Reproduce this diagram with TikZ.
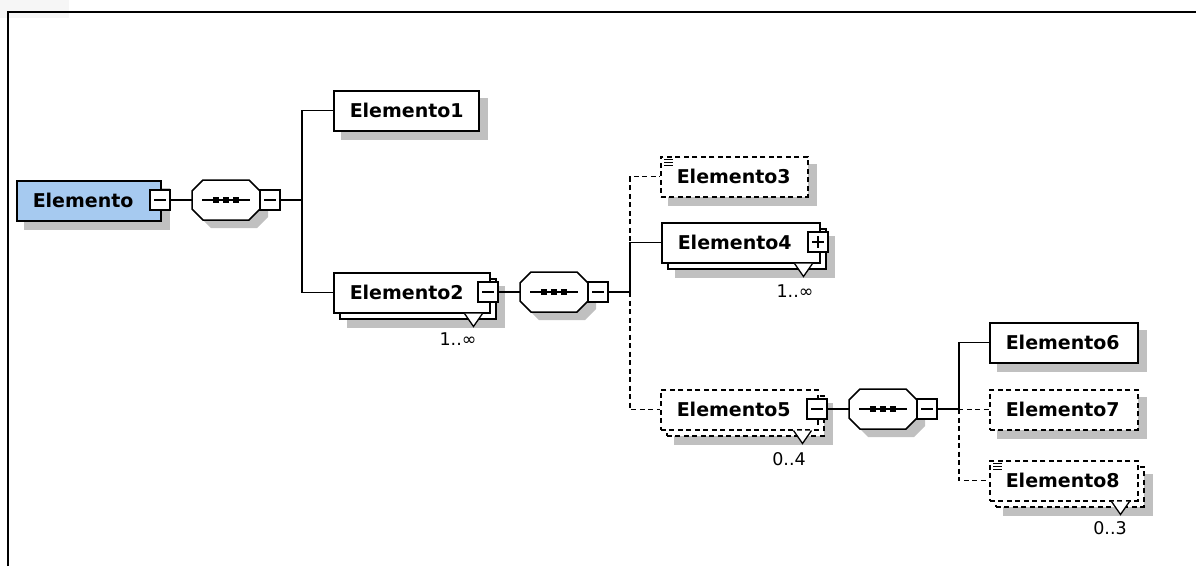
\documentclass[tikz,border=0pt]{standalone}
\usepackage{fontspec}
\setmainfont{DejaVu Sans}
\usetikzlibrary{backgrounds}
\definecolor{shadowgray}{RGB}{192,192,192}
\definecolor{rootblue}{RGB}{166,202,240}
\definecolor{faint}{RGB}{246,246,246}
\newcommand\octpts[1]{([xshift=11pt]#1.north west) -- ([xshift=-11pt]#1.north east) -- ([yshift=-11pt]#1.north east) -- ([yshift=11pt]#1.south east) -- ([xshift=-11pt]#1.south east) -- ([xshift=11pt]#1.south west) -- ([yshift=11pt]#1.south west) -- ([yshift=-11pt]#1.north west) -- cycle}
\begin{document}
\begin{tikzpicture}[x=1pt,y=-1pt,
  elbox/.style={draw,line width=1.5pt,fill=white,minimum height=40pt,inner xsep=16pt,inner ysep=0pt,align=left,anchor=north west,font=\fontsize{19}{21}\selectfont\bfseries},
  optbox/.style={elbox,dash pattern=on 5pt off 3.5pt},
  backbox/.style={draw,line width=1.5pt,fill=white,minimum height=40pt,inner sep=0pt,anchor=north west},
  optback/.style={backbox,dash pattern=on 5pt off 3.5pt},
  octnode/.style={minimum width=68pt,minimum height=40pt,inner sep=0pt,outer sep=0pt},
  octline/.style={line width=1.5pt,fill=white},
  minusbox/.style={draw,fill=white,line width=1.5pt,minimum size=20pt,inner sep=0pt,
    path picture={\draw[line width=1.4pt] ([xshift=4pt]path picture bounding box.west) -- ([xshift=-4pt]path picture bounding box.east);}},
  plusbox/.style={minusbox,
    path picture={\draw[line width=1.4pt] ([xshift=4pt]path picture bounding box.west) -- ([xshift=-4pt]path picture bounding box.east);
                  \draw[line width=1.4pt] ([yshift=-4pt]path picture bounding box.north) -- ([yshift=4pt]path picture bounding box.south);}},
  conn/.style={line width=1.4pt},
  optconn/.style={conn,dash pattern=on 5pt off 3.5pt},
  notch/.style={line width=1.3pt,fill=white},
  mult/.style={font=\fontsize{17.5}{19}\selectfont,inner sep=0pt},
  shad/.style={fill=shadowgray,transform canvas={xshift=8pt,yshift=-8pt}},
  icon/.style={line width=1pt},
  seqdot/.style={fill=black}
]
\useasboundingbox (0,0) rectangle (1196,566);
\fill[faint] (0,0) rectangle (69,18);
\draw[line width=2pt] (8,566) -- (8,12) -- (1196,12);

% junction points
\coordinate (j1) at (302,200);
\coordinate (j2) at (630,292);
\coordinate (j3) at (959,409);

% root
\node[elbox,fill=rootblue,text width=112pt] (e0) at (16,180) {\mbox{Elemento}};
\node[minusbox] (m0) at (160,200) {};

% sequence 1
\node[octnode] (o1) at (226,200) {};
\draw[octline] \octpts{o1};
\draw[conn] ([xshift=10pt]o1.west) -- ([xshift=-10pt]o1.east);
\foreach \d in {-10,0,10} \fill[seqdot] ([shift={(\d pt-2.7pt,-2.7pt)}]o1.center) rectangle ++(5.4,-5.4);
\node[minusbox] (m1) at (270,200) {};

% Elemento1
\node[elbox,text width=113pt] (e1) at (333,90) {\mbox{Elemento1}};

% Elemento2
\node[backbox,minimum width=156pt] (e2b) at (339,278) {};
\node[elbox,text width=124pt] (e2) at (333,272) {\mbox{Elemento2}};
\node[minusbox] (m2) at (488,292) {};
\draw[notch] ([xshift=-26pt]e2.south east) -- ++(9,13) -- ++(9,-13);
\node[mult] (l2) at (458,339) {1..∞};

% sequence 2
\node[octnode] (o2) at (554,292) {};
\draw[octline] \octpts{o2};
\draw[conn] ([xshift=10pt]o2.west) -- ([xshift=-10pt]o2.east);
\foreach \d in {-10,0,10} \fill[seqdot] ([shift={(\d pt-2.7pt,-2.7pt)}]o2.center) rectangle ++(5.4,-5.4);
\node[minusbox] (m3) at (598,292) {};

% Elemento3
\node[optbox,text width=115pt] (e3) at (660,156) {\mbox{Elemento3}};
\foreach \k in {3,6,9} \draw[icon] ([shift={(4pt,-\k pt)}]e3.north west) -- ++(9,0);

% Elemento4
\node[backbox,minimum width=158pt] (e4b) at (667,228) {};
\node[elbox,text width=126pt] (e4) at (661,222) {\mbox{Elemento4}};
\node[plusbox] (p4) at (818,242) {};
\draw[notch] ([xshift=-26pt]e4.south east) -- ++(9,13) -- ++(9,-13);
\node[mult] (l4) at (795,291) {1..∞};

% Elemento5
\node[optback,minimum width=157pt] (e5b) at (666,395) {};
\node[optbox,text width=125pt] (e5) at (660,389) {\mbox{Elemento5}};
\node[minusbox] (m5) at (817,409) {};
\draw[notch] ([xshift=-25pt]e5.south east) -- ++(9,13) -- ++(9,-13);
\node[mult] (l5) at (789,459) {0..4};

% sequence 3
\node[octnode] (o3) at (883,409) {};
\draw[octline] \octpts{o3};
\draw[conn] ([xshift=10pt]o3.west) -- ([xshift=-10pt]o3.east);
\foreach \d in {-10,0,10} \fill[seqdot] ([shift={(\d pt-2.7pt,-2.7pt)}]o3.center) rectangle ++(5.4,-5.4);
\node[minusbox] (m6) at (927,409) {};

% Elemento6-8
\node[elbox,text width=116pt] (e6) at (989,322) {\mbox{Elemento6}};
\node[optbox,text width=116pt] (e7) at (989,389) {\mbox{Elemento7}};
\node[optback,minimum width=148pt] (e8b) at (995,466) {};
\node[optbox,text width=116pt] (e8) at (989,460) {\mbox{Elemento8}};
\foreach \k in {3,6,9} \draw[icon] ([shift={(4pt,-\k pt)}]e8.north west) -- ++(9,0);
\draw[notch] ([xshift=-27pt]e8.south east) -- ++(9,13) -- ++(9,-13);
\node[mult] (l8) at (1110,528) {0..3};

% connectors
\draw[conn] (m0.east) -- (o1.west);
\draw[conn] (m1.east) -- (j1);
\draw[conn] (j1) |- (e1.west);
\draw[conn] (j1) |- (e2.west);
\draw[conn] (m2.east) -- (o2.west);
\draw[conn] (m3.east) -- (j2);
\draw[conn] (j2) |- (e4.west);
\draw[optconn] (j2) |- (e3.west);
\draw[optconn] (j2) |- (e5.west);
\draw[conn] (m5.east) -- (o3.west);
\draw[conn] (m6.east) -- (j3);
\draw[conn] (j3) |- (e6.west);
\draw[optconn] (j3) |- (e7.west);
\draw[optconn] (j3) |- (e8.west);

% shadows
\begin{scope}[on background layer]
  \foreach \n in {e0,e1,e2b,e3,e4b,e5b,e6,e7,e8b}
    \fill[shad] (\n.north west) rectangle (\n.south east);
  \fill[shad] \octpts{o1};
  \fill[shad] \octpts{o2};
  \fill[shad] \octpts{o3};
\end{scope}
\end{tikzpicture}
\end{document}
